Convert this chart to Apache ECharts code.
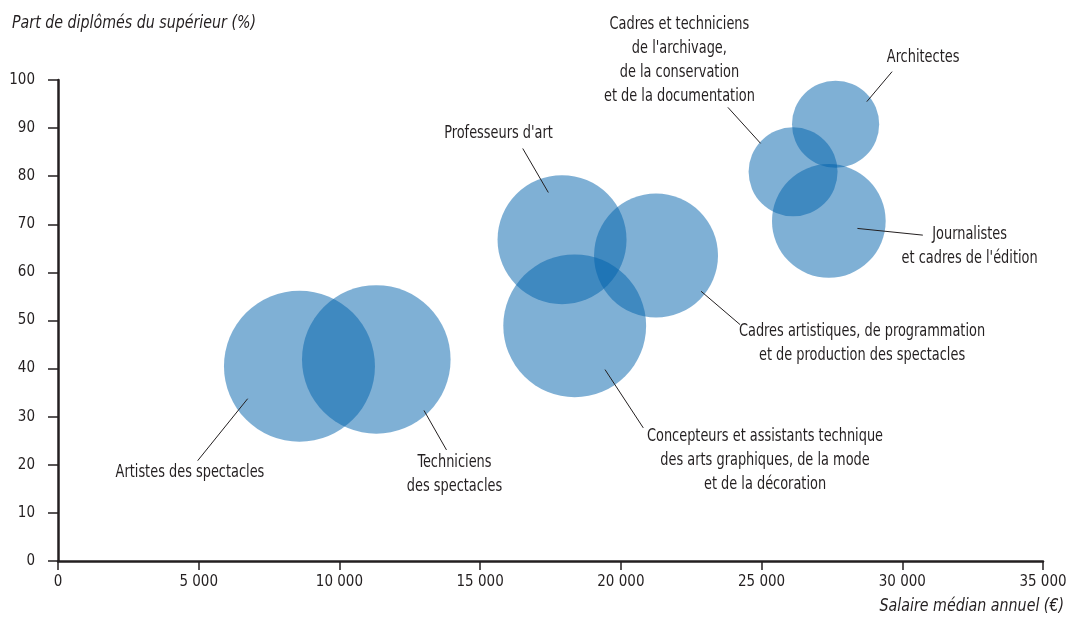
<!DOCTYPE html>
<html><head><meta charset="utf-8">
<script src="https://cdn.jsdelivr.net/npm/echarts/dist/echarts.min.js"></script>
<style>html,body{margin:0;padding:0;background:#fff}#c{width:1066px;height:620px}</style>
</head><body><div id="c"></div>
<script>
// ---- data ----
const professions = [
  'Artistes des spectacles',
  'Techniciens\ndes spectacles',
  "Professeurs d'art",
  'Cadres artistiques, de programmation\net de production des spectacles',
  'Concepteurs et assistants technique\ndes arts graphiques, de la mode\net de la décoration',
  "Cadres et techniciens\nde l'archivage,\nde la conservation\net de la documentation",
  'Architectes',
  "Journalistes\net cadres de l'édition"
];
const salaireMedian = [8580, 11310, 17910, 21250, 18360, 26120, 27630, 27390];
const partDiplomes  = [40.5, 41.9, 66.8, 63.5, 48.9, 80.9, 90.8, 70.7];
const effectifs     = [57, 55.2, 41.6, 38.4, 51, 19.8, 19, 32.3];
const xTicks = [0, 5000, 10000, 15000, 20000, 25000, 30000, 35000];
const yTicks = [0, 10, 20, 30, 40, 50, 60, 70, 80, 90, 100];

// ---- layout of annotations (pixel offsets from bubble centre) ----
const leaderLayout = [
  {p1: [-51.8, 32.5], p2: [-101.8, 94.5], t: [-109.5, 106.5]},
  {p1: [47.7, 51],    p2: [70.2, 90.5],   t: [78.2, 115.5]},
  {p1: [-13.7, -47.2],p2: [-39.3, -91.2], t: [-63.5, -106.5]},
  {p1: [45, 35.7],    p2: [84, 69],       t: [206, 88]},
  {p1: [30.3, 43.8],  p2: [68.6, 102.1],  t: [190.3, 134.8]},
  {p1: [-32.5, -28.5],p2: [-65.2, -64.5], t: [-113.7, -111.75]},
  {p1: [31.2, -22.6], p2: [56.5, -52.6],  t: [87.5, -67]},
  {p1: [28.6, 7.5],   p2: [94, 14.2],     t: [140.8, 25.2]}
];

const FONT = '"Liberation Sans Narrow", "DejaVu Sans Condensed", "Liberation Sans", sans-serif';
const INK = '#231f20';
const NARROW = 0.845;
const NARROW_IT = 0.93;

const points = salaireMedian.map((x, i) => [x, partDiplomes[i]]);
const fmt = v => String(v).replace(/\B(?=(\d{3})+(?!\d))/g, ' ');

const chart = echarts.init(document.getElementById('c'), null, {renderer: 'canvas'});
chart.setOption({
  animation: false,
  backgroundColor: '#fff',
  grid: {left: 58, right: 23, top: 80, bottom: 59, containLabel: false, outerBoundsMode: 'none'},
  xAxis: {
    type: 'value', min: xTicks[0], max: xTicks[xTicks.length - 1], interval: xTicks[1] - xTicks[0],
    splitLine: {show: false},
    axisLine: {show: true, lineStyle: {color: INK, width: 2.5}},
    axisTick: {show: true, inside: false, length: 9, lineStyle: {color: INK, width: 1.5}},
    axisLabel: {color: INK, fontFamily: FONT, fontSize: 15, margin: 14, formatter: fmt, hideOverlap: false}
  },
  yAxis: {
    type: 'value', min: yTicks[0], max: yTicks[yTicks.length - 1], interval: yTicks[1] - yTicks[0],
    splitLine: {show: false},
    axisLine: {show: true, lineStyle: {color: INK, width: 2.5}},
    axisTick: {show: true, inside: false, length: 10, lineStyle: {color: INK, width: 1.5}},
    axisLabel: {color: INK, fontFamily: FONT, fontSize: 15, margin: 23, padding: [0, 0, 8, 0]}
  },
  graphic: [
    {type: 'text', x: 12, y: 24, scaleX: NARROW_IT,
     style: {text: 'Part de diplômés du supérieur (%)', font: 'italic 17px ' + FONT, fill: INK, align: 'left', verticalAlign: 'middle'}},
    {type: 'text', x: 1064, y: 607, scaleX: NARROW_IT,
     style: {text: 'Salaire médian annuel (€)', font: 'italic 17px ' + FONT, fill: INK, align: 'right', verticalAlign: 'middle'}}
  ],
  series: [
    {
      type: 'scatter',
      data: points,
      symbol: 'circle',
      symbolSize: (val, params) => 20 * Math.sqrt(effectifs[params.dataIndex]),
      itemStyle: {color: 'rgb(0,97,171)', opacity: 0.5},
      emphasis: {disabled: true},
      z: 2
    },
    {
      type: 'custom',
      data: points,
      encode: {x: 0, y: 1},
      clip: false,
      silent: true,
      z: 3,
      renderItem: function (params, api) {
        const i = params.dataIndex;
        const c = api.coord([api.value(0), api.value(1)]);
        const L = leaderLayout[i];
        return {
          type: 'group',
          children: [
            {type: 'line', shape: {x1: c[0] + L.p1[0], y1: c[1] + L.p1[1], x2: c[0] + L.p2[0], y2: c[1] + L.p2[1]},
             style: {stroke: INK, lineWidth: 1}},
            {type: 'text', x: c[0] + L.t[0], y: c[1] + L.t[1], scaleX: NARROW,
             style: {text: professions[i], align: 'center', verticalAlign: 'middle', font: '17px ' + FONT, fill: INK, lineHeight: 24}}
          ]
        };
      }
    }
  ]
});
</script>
</body></html>
